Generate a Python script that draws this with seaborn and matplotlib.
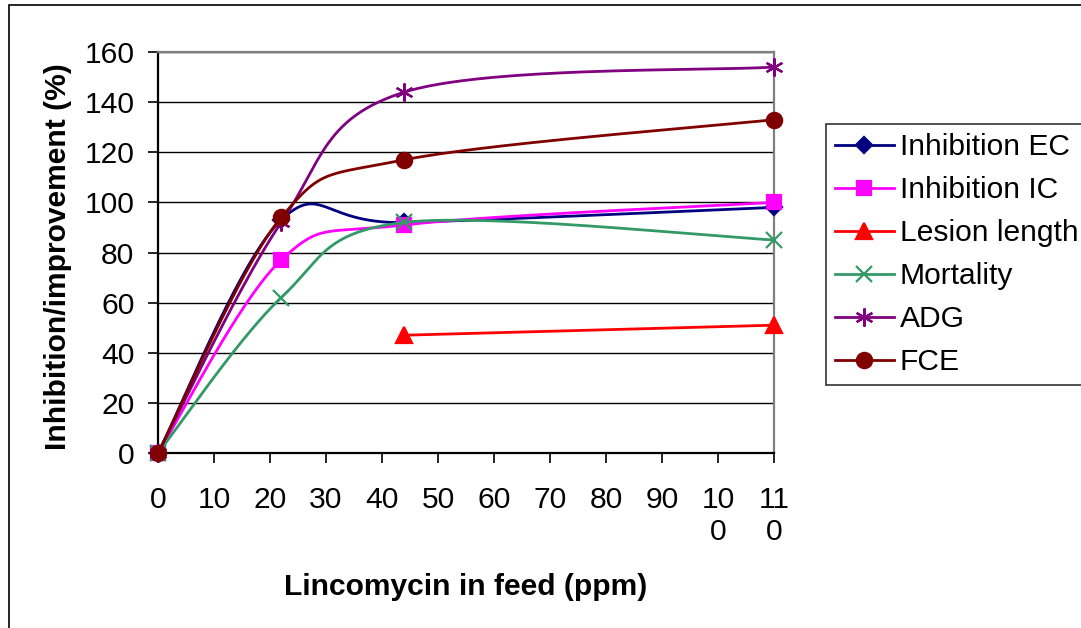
import numpy as np
import pandas as pd
import matplotlib
matplotlib.use("Agg")
import matplotlib.pyplot as plt
import matplotlib.patches as mpatches
from matplotlib.lines import Line2D
import seaborn as sns

# ---------------- data ----------------
x_ppm = [0, 22, 44, 110]
inhibition_ec = [0, 93, 92, 98]
inhibition_ic = [0, 77, 91, 100]
lesion_length = [np.nan, np.nan, 47, 51]
mortality = [0, 62, 92, 85]
adg = [0, 92, 144, 154]
fce = [0, 94, 117, 133]

series_names = ["Inhibition EC", "Inhibition IC", "Lesion length", "Mortality", "ADG", "FCE"]
series_values = [inhibition_ec, inhibition_ic, lesion_length, mortality, adg, fce]

x_ticks = [0, 10, 20, 30, 40, 50, 60, 70, 80, 90, 100, 110]
x_tick_labels = ["0", "10", "20", "30", "40", "50", "60", "70", "80", "90", "10\n0", "11\n0"]
y_ticks = [0, 20, 40, 60, 80, 100, 120, 140, 160]

x_label = "Lincomycin in feed (ppm)"
y_label = "Inhibition/improvement (%)"

# ---------------- styles ----------------
colors = ["#000080", "#FF00FF", "#FF0000", "#339966", "#800080", "#800000"]
markers = ["D", "s", "^", "x", (6, 2, 0), "o"]
msizes = [8.5, 10, 11, 11, 13, 11]


def excel_smooth(xs, ys, n=60):
    pts = np.array([(a, b) for a, b in zip(xs, ys) if not np.isnan(b)], dtype=float)
    if len(pts) < 3:
        return pts[:, 0], pts[:, 1]
    out = []
    m = len(pts)
    t = np.linspace(0, 1, n)[:, None]
    for i in range(m - 1):
        p0 = pts[i - 1] if i > 0 else pts[i]
        p1 = pts[i]
        p2 = pts[i + 1]
        p3 = pts[i + 2] if i + 2 < m else pts[i + 1]
        c1 = p1 + (p2 - p0) / 6.0
        c2 = p2 - (p3 - p1) / 6.0
        seg = ((1 - t) ** 3) * p1 + 3 * ((1 - t) ** 2) * t * c1 + 3 * (1 - t) * t ** 2 * c2 + t ** 3 * p2
        out.append(seg if i == 0 else seg[1:])
    arr = np.vstack(out)
    return arr[:, 0], arr[:, 1]


FS = 21.6
plt.rcParams["font.family"] = ["Liberation Sans", "DejaVu Sans"]

fig = plt.figure(figsize=(10.81, 6.28), dpi=100)
ax = fig.add_axes([158 / 1081, 1 - 453 / 628, (774 - 158) / 1081, (453 - 52) / 628])

for k, (name, vals) in enumerate(zip(series_names, series_values)):
    sx, sy = excel_smooth(x_ppm, vals)
    df = pd.DataFrame({"x": sx, "y": sy, "order": np.arange(len(sx))})
    sns.lineplot(data=df, x="x", y="y", sort=False, estimator=None, color=colors[k],
                 lw=2, ax=ax, zorder=3 + 2 * k, clip_on=False)
    mx = [a for a, b in zip(x_ppm, vals) if not np.isnan(b)]
    my = [b for b in vals if not np.isnan(b)]
    ax.plot(mx, my, linestyle="none", marker=markers[k], ms=msizes[k], color=colors[k],
            mec=colors[k], mew=1.6, zorder=4 + 2 * k, clip_on=False)

ax.set_xlim(0, 110)
ax.set_ylim(0, 160)
ax.set_xticks(x_ticks)
ax.set_xticklabels(x_tick_labels, fontsize=FS, linespacing=1.15)
ax.set_yticks(y_ticks)
ax.set_yticklabels([str(v) for v in y_ticks], fontsize=FS)
ax.tick_params(axis="x", direction="out", length=7, width=1.2, color="black", pad=17)
ax.tick_params(axis="y", direction="out", length=7, width=1.2, color="black", pad=10)

ax.set_facecolor("white")
ax.yaxis.grid(True, color="black", lw=1, zorder=0)
ax.xaxis.grid(False)
ax.set_axisbelow(True)
for s in ["left", "bottom"]:
    ax.spines[s].set_color("black")
    ax.spines[s].set_linewidth(1.6)
for s in ["top", "right"]:
    ax.spines[s].set_color("#808080")
    ax.spines[s].set_linewidth(1.6)

ax.set_xlabel(x_label, fontsize=FS, fontweight="bold")
ax.set_ylabel(y_label, fontsize=FS, fontweight="bold")
ax.xaxis.set_label_coords(0.5, -0.30)
ax.yaxis.set_label_coords(-(158 - 72) / 616, 0.49)

handles = [Line2D([0], [0], color=colors[k], lw=2, marker=markers[k], ms=msizes[k],
                  mec=colors[k], mew=1.6) for k in range(len(series_names))]
leg = fig.legend(handles, series_names, loc="upper left",
                 bbox_to_anchor=(826 / 1081, 1 - 124 / 628), bbox_transform=fig.transFigure,
                 fontsize=FS, frameon=True, fancybox=False, edgecolor="black",
                 borderaxespad=0, borderpad=0.3, labelspacing=0.5, handlelength=1.95,
                 handletextpad=0.2)
leg.get_frame().set_linewidth(1.2)

fig.patches.append(mpatches.Rectangle((9 / 1081, -0.1), 2.0, 1.1 - 5 / 628, transform=fig.transFigure,
                                      fill=False, edgecolor="black", lw=1.2))

fig.savefig("out.png", dpi=100)
